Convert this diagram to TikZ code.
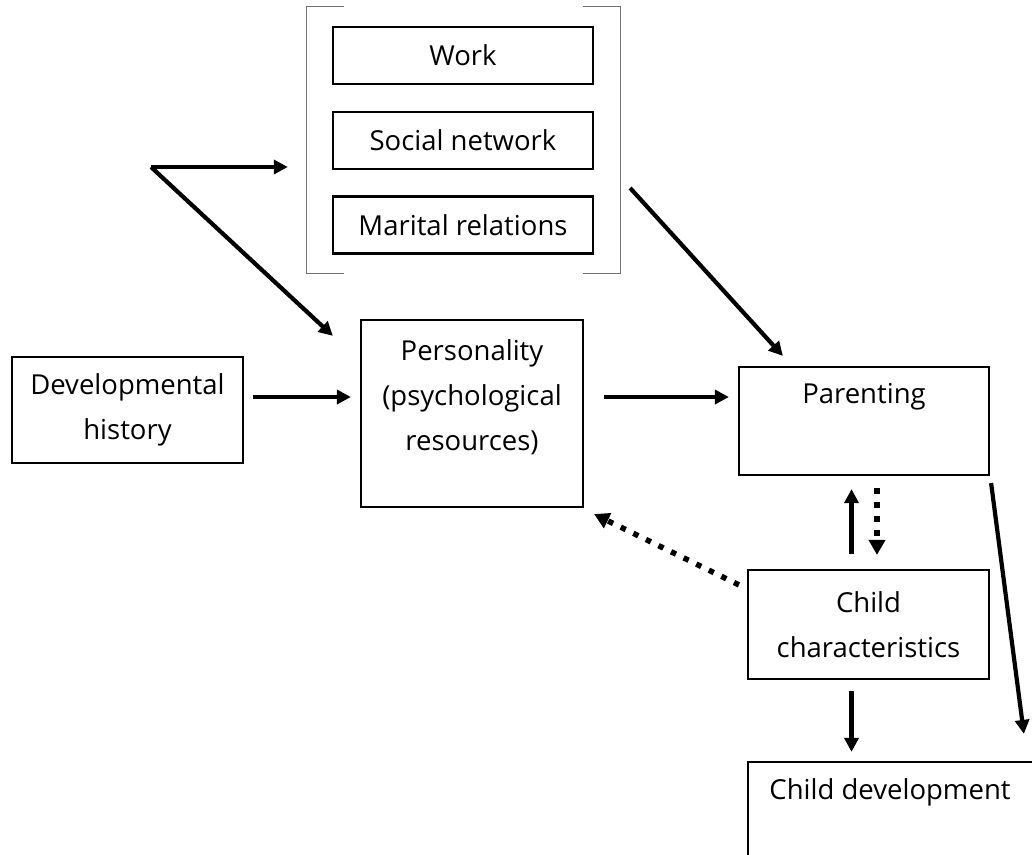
\documentclass[tikz,border=0pt]{standalone}
\usepackage{fontspec}
\setmainfont{Open Sans}
\usetikzlibrary{arrows.meta,calc}
\tikzset{
  box/.style={draw=black, line width=2.2pt, inner sep=0pt, align=center},
  lbl/.style={inner sep=0pt, align=center, font=\fontsize{27.5}{45}\selectfont},
  arr/.style={line width=4.2pt, -{Triangle[length=14pt,width=14pt]}},
  dotarr/.style={line width=5.5pt, dash pattern=on 5.5pt off 8.5pt, -{Triangle[length=15pt,width=16pt]}},
  brk/.style={draw=black!55, line width=1.3pt}
}
\begin{document}
\begin{tikzpicture}[x=1pt,y=-1pt]
\path[use as bounding box, clip] (0,0) rectangle (1032,854);
\fill[white] (0,0) rectangle (1032,854);
% environment bracket
\node[minimum width=313pt, minimum height=266pt, inner sep=0pt] (env) at (463.5,140) {};
\draw[brk] ($(env.north west)+(37,0)$) -- (env.north west) -- (env.south west) -- ($(env.south west)+(37,0)$);
\draw[brk] ($(env.north east)+(-37,0)$) -- (env.north east) -- (env.south east) -- ($(env.south east)+(-37,0)$);
% boxes
\node[box, lbl, minimum width=260pt, minimum height=57pt] (work) at (463,55.5) {Work};
\node[box, lbl, minimum width=260pt, minimum height=57pt] (social) at (463,140.5) {Social network};
\node[box, lbl, minimum width=260pt, minimum height=57pt] (marital) at (463,225) {Marital relations};
\node[box, lbl, minimum width=231pt, minimum height=106pt] (dev) at (127.5,410) {Developmental\\history};
\node[box, minimum width=222pt, minimum height=187pt] (pers) at (472,413.5) {};
\node[lbl] (perstext) at (472,397) {Personality\\(psychological\\resources)};
\node[box, minimum width=250pt, minimum height=108pt] (par) at (864,421) {};
\node[lbl] (partext) at (864,397) {Parenting};
\node[box, lbl, minimum width=241pt, minimum height=109pt] (cc) at (868.5,624.5) {Child\\characteristics};
\node[box, minimum width=290pt, minimum height=110pt] (cd) at (893,817) {};
\node[lbl] (cdtext) at (890,792) {Child development};
% split point and free end
\coordinate (sp) at (151,167);
\path (sp -| env.west) ++(-19,0) coordinate (spend);
% connectors
\draw[arr] (sp) -- (spend);
\draw[arr] (sp) -- ($(pers.north west)+(-27,17)$);
\draw[arr, shorten <=9pt, shorten >=9pt] (dev.east |- perstext) -- (pers.west |- perstext);
\draw[arr, shorten <=20pt, shorten >=9pt] (pers.east |- perstext) -- (par.west |- perstext);
\draw[arr] ($(marital.east)+(36,-37)$) -- ($(par.north west)+(45,-10)$);
\draw[arr] ($(par.south east)+(1,7)$) -- ($(cd.north west)+(277,-27)$);
\draw[arr, shorten <=15pt, shorten >=13pt] ([xshift=-17pt]cc.north) -- ([xshift=-17pt]cc.north |- par.south);
\draw[dotarr, shorten <=12pt, shorten >=14pt] ([xshift=8.5pt]cc.north |- par.south) -- ([xshift=8.5pt]cc.north);
\draw[arr, shorten <=11pt, shorten >=9pt] ([xshift=-17pt]cc.south) -- ([xshift=-17pt]cc.south |- cd.north);
\draw[dotarr] ($(cc.north west)+(-8,16)$) -- ($(pers.south east)+(10,6)$);
\end{tikzpicture}
\end{document}
